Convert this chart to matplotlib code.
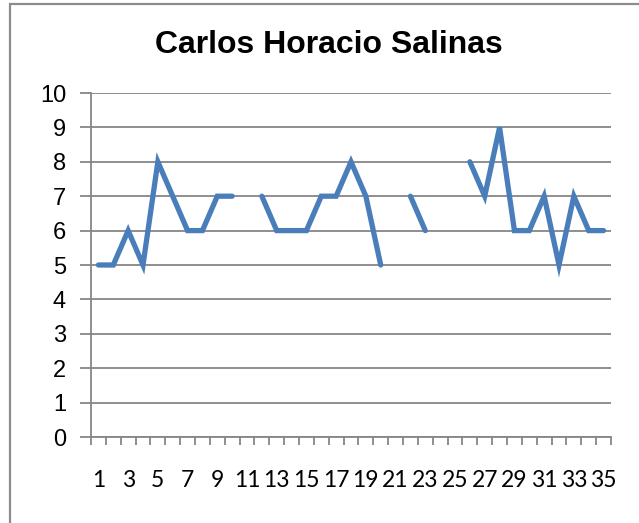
import matplotlib
matplotlib.use("Agg")
import matplotlib.pyplot as plt
import numpy as np
from matplotlib.patches import Rectangle

categories = list(range(1, 36))
values = [5, 5, 6, 5, 8, 7, 6, 6, 7, 7, None, 7, 6, 6, 6, 7, 7, 8, 7, 5,
          None, 7, 6, None, None, 8, 7, 9, 6, 6, 7, 5, 7, 6, 6]
y_ticks = list(range(0, 11))
title = "Carlos Horacio Salinas"

W, H = 639, 523
fig = plt.figure(figsize=(W / 100, H / 100), dpi=100)
fig.patch.set_facecolor("white")

# outer chart frame
fig.patches.append(Rectangle((9.5 / W, -0.1), 1.2, (H - 3.5) / H + 0.1,
                             transform=fig.transFigure, fill=False,
                             edgecolor="#8c8c8c", linewidth=1.6))

left, right, top, bottom = 91, 611, 93, 437
ax = fig.add_axes([left / W, (H - bottom) / H, (right - left) / W, (bottom - top) / H])

y = np.array([np.nan if v is None else v for v in values], dtype=float)
ax.plot(categories, y, color="#4A7EBB", linewidth=3.8, solid_capstyle="round",
        solid_joinstyle="miter", zorder=3)

ax.set_xlim(0.5, 35.5)
ax.set_ylim(0, 10)
ax.set_yticks(y_ticks)
ax.yaxis.grid(True, color="#868686", linewidth=1.3)
ax.set_axisbelow(True)

ax.set_xticks(categories[::2])
ax.set_xticks(np.arange(0.5, 36, 1), minor=True)
ax.tick_params(axis="x", which="major", length=0, pad=23.5, labelsize=16.5)
ax.tick_params(axis="x", which="minor", length=6, width=1.3, color="#868686", direction="out")
ax.tick_params(axis="y", length=8, width=1.3, color="#868686", pad=10, labelsize=17)
for lab in ax.get_xticklabels():
    lab.set_family("Lato")
for lab in ax.get_yticklabels():
    lab.set_family("Liberation Sans")

for s in ["top", "right"]:
    ax.spines[s].set_visible(False)
for s in ["left", "bottom"]:
    ax.spines[s].set_color("#868686")
    ax.spines[s].set_linewidth(1.3)

fig.text(329 / W, 1 - 53 / H, title, ha="center", va="baseline",
         fontsize=23, fontweight="bold", family="Liberation Sans")

fig.savefig("out.png", dpi=100)
